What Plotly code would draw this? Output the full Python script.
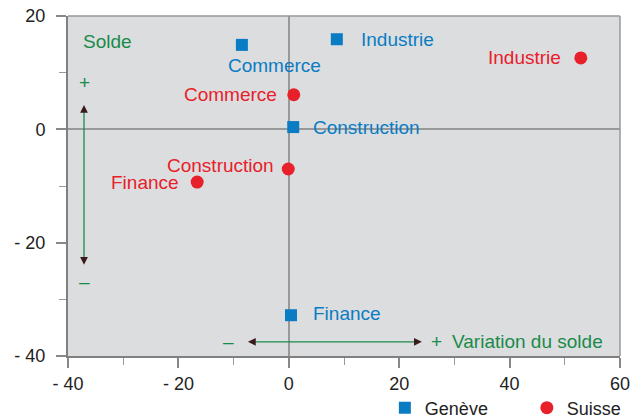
import plotly.graph_objects as go

# Data
sectors = ["Commerce", "Industrie", "Construction", "Finance"]
geneve_x = [-8.5, 8.7, 0.8, 0.4]
geneve_y = [14.9, 15.9, 0.4, -32.8]
suisse_x = [0.9, 52.9, -0.1, -16.6]
suisse_y = [6.1, 12.6, -7.0, -9.3]
x_tick_vals = [-40, -20, 0, 20, 40, 60]
x_tick_text = ["- 40", "- 20", "0", "20", "40", "60"]
y_tick_vals = [-40, -20, 0, 20]
y_tick_text = ["- 40", "- 20", "0", "20"]

BLUE = "#0a7cc4"
RED = "#e8202a"
GREEN = "#1a8a4a"
DARK = "#3a1a1a"
FONT = "Liberation Sans, Arial, sans-serif"
FS = 19

fig = go.Figure()
fig.add_trace(go.Scatter(x=geneve_x, y=geneve_y, mode="markers", name="Genève",
                         marker=dict(symbol="square", size=12, color=BLUE)))
fig.add_trace(go.Scatter(x=suisse_x, y=suisse_y, mode="markers", name="Suisse",
                         marker=dict(symbol="circle", size=13, color=RED)))

annotations = []
g_offsets = [(33, -21, "center"), (22, 0, "left"), (18, 0, "left"), (20, 2, "left")]
for s, x, y, (dx, dy, anc) in zip(sectors, geneve_x, geneve_y, g_offsets):
    annotations.append(dict(x=x, y=y, text=s, showarrow=False, xanchor=anc, yanchor="middle",
                            xshift=dx, yshift=dy, font=dict(color=BLUE, size=FS, family=FONT)))
s_offsets = [(-15, 0), (-18, 0), (-12, 4), (-16, 0)]
for s, x, y, (dx, dy) in zip(sectors, suisse_x, suisse_y, s_offsets):
    annotations.append(dict(x=x, y=y, text=s, showarrow=False, xanchor="right", yanchor="middle",
                            xshift=dx, yshift=dy, font=dict(color=RED, size=FS, family=FONT)))

gfont = dict(color=GREEN, size=FS, family=FONT)
annotations += [
    dict(x=-37.6, y=15.5, text="Solde", showarrow=False, xanchor="left", font=gfont),
    dict(x=-37.1, y=8.2, text="+", showarrow=False, font=gfont),
    dict(x=-37.1, y=-26.9, text="–", showarrow=False, font=gfont),
    dict(x=-11.0, y=-37.5, text="–", showarrow=False, font=gfont),
    dict(x=26.7, y=-37.5, text="+", showarrow=False, font=gfont),
    dict(x=29.2, y=-37.5, text="Variation du solde", showarrow=False, xanchor="left", font=gfont),
]
for (x, y, ax, ay) in [(-37.1, 4.3, 0, 8), (-37.1, -23.9, 0, -8),
                       (-7.4, -37.5, 8, 0), (24.1, -37.5, -8, 0)]:
    annotations.append(dict(x=x, y=y, ax=ax, ay=ay, axref="pixel", ayref="pixel",
                            showarrow=True, arrowhead=2, arrowsize=1.3, arrowwidth=1.2,
                            arrowcolor=DARK, text=""))

shapes = [
    dict(type="line", x0=-37.1, x1=-37.1, y0=3.5, y1=-23.0, line=dict(color=GREEN, width=1.3), layer="above"),
    dict(type="line", x0=-6.6, x1=23.3, y0=-37.5, y1=-37.5, line=dict(color=GREEN, width=1.3), layer="above"),
    dict(type="line", xref="x domain", yref="y domain", x0=0, x1=1, y0=1, y1=1, line=dict(color="#999999", width=1.5)),
    dict(type="line", xref="x domain", yref="y domain", x0=1, x1=1, y0=0, y1=1, line=dict(color="#999999", width=1.5)),
]

fig.update_layout(
    width=641, height=419,
    margin=dict(l=68, r=21, t=16, b=63, autoexpand=False),
    paper_bgcolor="white", plot_bgcolor="#dcdddf",
    font=dict(family=FONT, size=18, color="#222222"),
    showlegend=True,
    legend=dict(orientation="h", x=0.574, y=-0.153, xanchor="left", yanchor="middle",
                font=dict(size=18, color="#222222"), bgcolor="rgba(0,0,0,0)",
                entrywidth=97, entrywidthmode="pixels"),
    annotations=annotations, shapes=shapes,
)
common = dict(ticks="outside", ticklen=10, tickcolor="#888888", tickwidth=1.5,
              showgrid=False, zeroline=True, zerolinecolor="#999999", zerolinewidth=1.5,
              showline=True, linecolor="#808080", linewidth=2, fixedrange=True, automargin=False,
              ticklabeloverflow="allow", tickfont=dict(size=18, color="#222222"))
fig.update_xaxes(range=[-40, 60], tickmode="array", tickvals=x_tick_vals, ticktext=x_tick_text,
                 minor=dict(tickmode="array", tickvals=[-30, -10, 10, 30, 50], ticks="outside",
                            ticklen=7, tickcolor="#999999", tickwidth=1.2), **common)
fig.update_yaxes(range=[-40, 20], tickmode="array", tickvals=y_tick_vals, ticktext=y_tick_text,
                 ticklabelstandoff=7,
                 minor=dict(tickmode="array", tickvals=[-30, -10, 10], ticks="outside",
                            ticklen=7, tickcolor="#999999", tickwidth=1.2), **common)

fig.write_html("out.html", config={"displayModeBar": False},
               post_script="document.body.style.margin='0px';document.body.style.overflow='hidden';")
